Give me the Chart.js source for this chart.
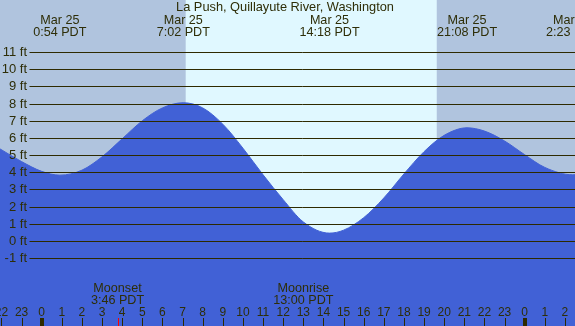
<!DOCTYPE html>
<html>
<head>
<meta charset="utf-8">
<style>
  html, body { margin: 0; padding: 0; background: #b0c4de; overflow: hidden; }
  canvas { display: block; }
</style>
<script src="https://cdn.jsdelivr.net/npm/chart.js@4/dist/chart.umd.min.js"></script>
</head>
<body>
<canvas id="c" width="575" height="326"></canvas>
<script>
// ---- data (hours relative to midnight of Mar 25, PDT; heights in ft) ----
const tideHours   = [-2.1, -1, 0, 0.9, 2, 3, 4, 5, 6, 7.033, 8, 9, 10, 11, 12, 13, 14.3, 15, 16, 17, 18, 19, 20, 21.133, 22, 23, 24, 25, 26.383, 26.6];
const tideHeights = [5.38, 4.62, 4.05, 3.83, 4.12, 4.9, 5.95, 7.0, 7.75, 8.05, 7.75, 6.8, 5.4, 3.85, 2.4, 1.1, 0.45, 0.62, 1.35, 2.5, 3.9, 5.2, 6.15, 6.59, 6.4, 5.82, 5.02, 4.28, 3.85, 3.86];

const extremeHours = [0.9, 7.033, 14.3, 21.133, 26.383];
const extremeDates = ['Mar 25', 'Mar 25', 'Mar 25', 'Mar 25', 'Mar 26'];
const extremeTimes = ['0:54 PDT', '7:02 PDT', '14:18 PDT', '21:08 PDT', '2:23 PDT'];

const feetTicks  = [-1, 0, 1, 2, 3, 4, 5, 6, 7, 8, 9, 10, 11];
const hourTicks  = [-2, -1, 0, 1, 2, 3, 4, 5, 6, 7, 8, 9, 10, 11, 12, 13, 14, 15, 16, 17, 18, 19, 20, 21, 22, 23, 24, 25, 26];
const hourLabels = ['22', '23', '0', '1', '2', '3', '4', '5', '6', '7', '8', '9', '10', '11', '12', '13', '14', '15', '16', '17', '18', '19', '20', '21', '22', '23', '0', '1', '2'];

const sunrise = 7.155, sunset = 19.63;
const moonEvents = [
  { hour: 3.767, name: 'Moonset',  time: '3:46 PDT' },
  { hour: 13.0,  name: 'Moonrise', time: '13:00 PDT' }
];
const title = 'La Push, Quillayute River, Washington';

// ---- colours ----
const NIGHT = '#b0c4de', DAY = '#e0f8ff', WATER = '#4161d6', INK = '#2e2e08', LINE = '#2e2a00';
const FONT = '"Liberation Sans", Arial, sans-serif';

const decor = {
  id: 'decor',
  beforeDatasetsDraw(chart) {
    const { ctx, chartArea: a, scales: { x } } = chart;
    ctx.save();
    ctx.fillStyle = NIGHT;
    ctx.fillRect(a.left, a.top, a.right - a.left, a.bottom - a.top);
    const x1 = x.getPixelForValue(sunrise), x2 = x.getPixelForValue(sunset);
    ctx.fillStyle = DAY;
    ctx.fillRect(x1, a.top, x2 - x1, a.bottom - a.top);
    ctx.restore();
  },
  afterDatasetsDraw(chart) {
    const { ctx, chartArea: a, scales: { x, y } } = chart;
    ctx.save();
    // horizontal foot lines + labels
    ctx.strokeStyle = LINE;
    ctx.lineWidth = 1;
    ctx.fillStyle = INK;
    ctx.font = '13px ' + FONT;
    ctx.textAlign = 'right';
    ctx.textBaseline = 'middle';
    feetTicks.forEach(f => {
      const py = Math.round(y.getPixelForValue(f)) + 0.5;
      ctx.beginPath();
      ctx.moveTo(29.5, py);
      ctx.lineTo(a.right, py);
      ctx.stroke();
      ctx.fillText(f + ' ft', 27, py);
    });
    // title
    ctx.textAlign = 'center';
    ctx.textBaseline = 'alphabetic';
    ctx.font = '12.8px ' + FONT;
    ctx.fillText(title, 285, 11);
    // high / low labels
    ctx.font = '12.6px ' + FONT;
    extremeHours.forEach((h, i) => {
      const px = x.getPixelForValue(h);
      ctx.fillText(extremeDates[i], px, 24);
      ctx.fillText(extremeTimes[i], px, 35.7);
    });
    // moon events
    moonEvents.forEach(m => {
      const px = x.getPixelForValue(m.hour);
      ctx.fillStyle = INK;
      ctx.fillText(m.name, px, 291.7);
      ctx.fillText(m.time, px, 303.7);
      ctx.fillStyle = '#ff0000';
      ctx.fillRect(Math.round(px), 318, 1, 8);
    });
    // hour ticks + labels
    ctx.font = '12px ' + FONT;
    hourTicks.forEach((h, i) => {
      const px = x.getPixelForValue(h);
      ctx.fillStyle = INK;
      ctx.fillText(hourLabels[i], px, 315.7);
      ctx.fillStyle = LINE;
      if (hourLabels[i] === '0') {
        ctx.fillRect(Math.round(px) - 2, 318, 4, 8);
      } else {
        ctx.fillRect(Math.round(px), 318, 1, 8);
      }
    });
    ctx.restore();
  }
};

new Chart(document.getElementById('c'), {
  type: 'line',
  data: {
    datasets: [{
      data: tideHours.map((h, i) => ({ x: h, y: tideHeights[i] })),
      borderColor: WATER,
      backgroundColor: WATER,
      borderWidth: 1,
      pointRadius: 0,
      fill: 'start',
      cubicInterpolationMode: 'monotone'
    }]
  },
  options: {
    responsive: false,
    devicePixelRatio: 1,
    animation: false,
    layout: { padding: 0 },
    plugins: { legend: { display: false }, tooltip: { enabled: false }, title: { display: false } },
    scales: {
      x: { type: 'linear', min: -2.072, max: 26.5, display: false },
      y: { type: 'linear', min: -4.965, max: 14.04, display: false }
    }
  },
  plugins: [decor]
});
</script>
</body>
</html>
